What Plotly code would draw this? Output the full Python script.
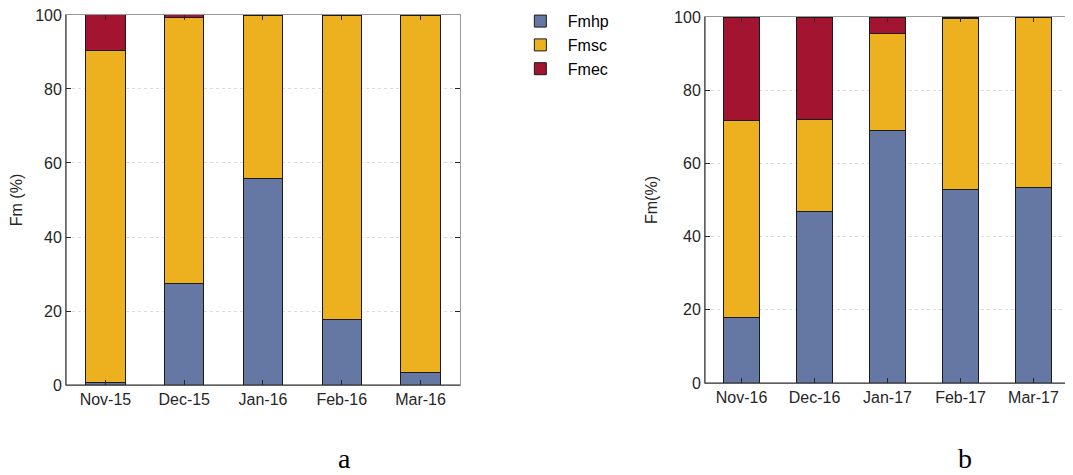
import plotly.graph_objects as go

cats_a = ["Nov-15", "Dec-15", "Jan-16", "Feb-16", "Mar-16"]
fmhp_a = [0.7, 27.3, 55.7, 17.7, 3.4]
fmsc_a = [89.8, 72.1, 44.1, 82.1, 96.4]
fmec_a = [9.5, 0.6, 0.2, 0.2, 0.2]

cats_b = ["Nov-16", "Dec-16", "Jan-17", "Feb-17", "Mar-17"]
fmhp_b = [17.9, 46.8, 69.1, 53.0, 53.5]
fmsc_b = [53.7, 25.2, 26.4, 46.6, 46.3]
fmec_b = [28.4, 28.0, 4.5, 0.4, 0.2]

series_names = ["Fmhp", "Fmsc", "Fmec"]
colors = ["#6577A3", "#EDB120", "#A2142F"]
y_ticks = [0, 20, 40, 60, 80, 100]

fig = go.Figure()
for name, col, ya, yb in zip(series_names, colors, [fmhp_a, fmsc_a, fmec_a], [fmhp_b, fmsc_b, fmec_b]):
    fig.add_trace(go.Bar(x=cats_a, y=ya, name=name, marker=dict(color=col, line=dict(color="#1a1a1a", width=1)),
                         xaxis="x", yaxis="y", legendgroup=name, showlegend=True))
    fig.add_trace(go.Bar(x=cats_b, y=yb, name=name, marker=dict(color=col, line=dict(color="#1a1a1a", width=1)),
                         xaxis="x2", yaxis="y2", legendgroup=name, showlegend=False))

font_main = dict(family="Liberation Sans, Arial", size=16, color="#262626")

def xax(domain, anchor):
    return dict(domain=domain, anchor=anchor, showgrid=False, ticks="inside", ticklen=5, tickcolor="#262626",
                mirror="ticks", showline=True, linecolor="#999999", linewidth=1, tickfont=font_main,
                zeroline=False, fixedrange=True, automargin=False, ticklabeloverflow="allow")

def yax(domain, anchor, title):
    return dict(domain=domain, anchor=anchor, range=[0, 100], tickvals=y_ticks, ticks="inside", ticklen=5,
                tickcolor="#262626", mirror="ticks", showline=True, linecolor="#999999", linewidth=1,
                showgrid=True, gridcolor="#dcdcdc", griddash="dot", gridwidth=1, zeroline=False, automargin=False,
                ticklabeloverflow="allow",
                tickfont=font_main, title=dict(text=title, font=font_main, standoff=12))

fig.update_layout(
    width=1073, height=475,
    margin=dict(l=0, r=0, t=0, b=0, autoexpand=False),
    paper_bgcolor="white", plot_bgcolor="white",
    barmode="stack", bargap=0.5,
    xaxis=xax([0.0541, 0.4212], "y"),
    yaxis=yax([0.2063, 0.9853], "x", "Fm (%)"),
    xaxis2=xax([0.6496, 0.9897], "y2"),
    yaxis2=yax([0.2105, 0.981], "x2", "Fm(%)"),
    legend=dict(x=0.4705, y=1.008, xanchor="left", yanchor="top", font=dict(family="Liberation Sans, Arial", size=16, color="#000000"),
                bgcolor="rgba(0,0,0,0)", itemwidth=45, tracegroupgap=0, traceorder="normal"),
    showlegend=True,
    annotations=[
        dict(text="a", x=0.306, y=0.015, xref="paper", yref="paper", showarrow=False,
             font=dict(family="Liberation Serif, Times New Roman", size=28, color="#000")),
        dict(text="b", x=0.9, y=0.015, xref="paper", yref="paper", showarrow=False,
             font=dict(family="Liberation Serif, Times New Roman", size=28, color="#000")),
    ],
    shapes=[
        dict(type="line", xref="x domain", yref="y domain", x0=0, x1=0, y0=0, y1=1, line=dict(color="#262626", width=1)),
        dict(type="line", xref="x domain", yref="y domain", x0=0, x1=1, y0=0, y1=0, line=dict(color="#262626", width=1)),
        dict(type="line", xref="x2 domain", yref="y2 domain", x0=0, x1=0, y0=0, y1=1, line=dict(color="#262626", width=1)),
        dict(type="line", xref="x2 domain", yref="y2 domain", x0=0, x1=1, y0=0, y1=0, line=dict(color="#262626", width=1)),
    ],
)

fig.write_html("out.html")
